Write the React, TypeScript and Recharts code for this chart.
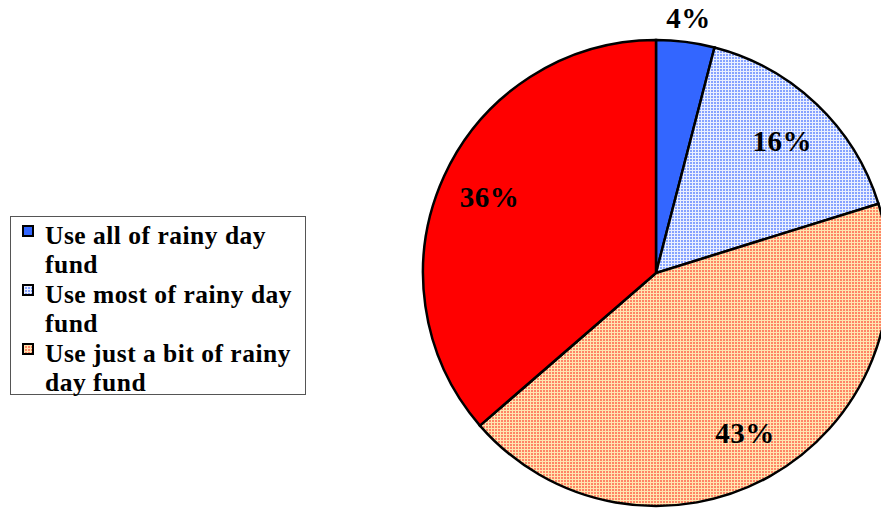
import { PieChart, Pie, Cell, Legend } from "recharts";

// Share of respondents by how much of the rainy day fund they would use
const categories = [
  "Use all of rainy day fund",
  "Use most of rainy day fund",
  "Use just a bit of rainy day fund",
  "Use none of rainy day fund",
];
const shares = [4, 16, 43, 36];

// the legend box only has room for the first three entries
const legendEntries = categories.slice(0, 3);

const fills = ["#3366ff", "url(#dotsBlue)", "url(#dotsOrange)", "#ff0000"];

const data = categories.map((name, i) => ({ name, value: shares[i] }));

const RADIAN = Math.PI / 180;
const serif = '"Liberation Serif", "Times New Roman", serif';

function renderLabel(props: any) {
  const { cx, cy, midAngle, outerRadius, value } = props;
  const r = value < 8 ? outerRadius + 24 : outerRadius * 0.785;
  const x = cx + r * Math.cos(-midAngle * RADIAN);
  const y = cy + r * Math.sin(-midAngle * RADIAN);
  return (
    <text
      x={x}
      y={y}
      textAnchor="middle"
      dominantBaseline="central"
      fontFamily={serif}
      fontWeight="bold"
      fontSize={29}
      letterSpacing={0.5}
      fill="#000"
    >
      {`${value}%`}
    </text>
  );
}

function Swatch({ fill }: { fill: string }) {
  return (
    <svg width={12} height={12} style={{ flex: "none", marginTop: 4, marginRight: 11 }}>
      <rect x={1} y={1} width={10} height={10} fill={fill} stroke="#000" strokeWidth={2} />
    </svg>
  );
}

function renderLegend() {
  return (
    <div
      style={{
        boxSizing: "border-box",
        width: 296,
        height: 179,
        border: "1px solid #555",
        background: "#fff",
        padding: "3.5px 4px 0 11px",
      }}
    >
      {legendEntries.map((name, i) => (
        <div key={name} style={{ display: "flex", alignItems: "flex-start" }}>
          <Swatch fill={fills[i]} />
          <div
            style={{
              fontFamily: serif,
              fontWeight: "bold",
              fontSize: 25.5,
              letterSpacing: 0.5,
              lineHeight: "29.5px",
              color: "#000",
              width: 255,
            }}
          >
            {name}
          </div>
        </div>
      ))}
    </div>
  );
}

export default function App() {
  return (
    <div style={{ position: "absolute", left: 0, top: 0, width: 881, height: 508, background: "#fff" }}>
      <svg width={0} height={0} style={{ position: "absolute" }}>
        <defs>
          <pattern id="dotsBlue" width={3} height={3} patternUnits="userSpaceOnUse">
            <rect width={3} height={3} fill="#eaf0ff" />
            <rect width={2} height={2} fill="#86a2ff" />
          </pattern>
          <pattern id="dotsOrange" width={3} height={3} patternUnits="userSpaceOnUse">
            <rect width={3} height={3} fill="#ffe6b0" />
            <rect width={2} height={2} fill="#ff8466" />
          </pattern>
        </defs>
      </svg>
      <PieChart width={881} height={508} margin={{ top: 0, right: 0, bottom: 0, left: 0 }}>
        <Pie
          data={data}
          dataKey="value"
          nameKey="name"
          cx={656}
          cy={273}
          outerRadius={233}
          startAngle={90}
          endAngle={-270}
          stroke="#000"
          strokeWidth={2.5}
          label={renderLabel}
          labelLine={false}
          isAnimationActive={false}
        >
          {data.map((d, i) => (
            <Cell key={d.name} fill={fills[i]} />
          ))}
        </Pie>
        <Legend
          content={renderLegend}
          wrapperStyle={{ left: 10, top: 216, width: 296, height: 179 }}
        />
      </PieChart>
    </div>
  );
}
